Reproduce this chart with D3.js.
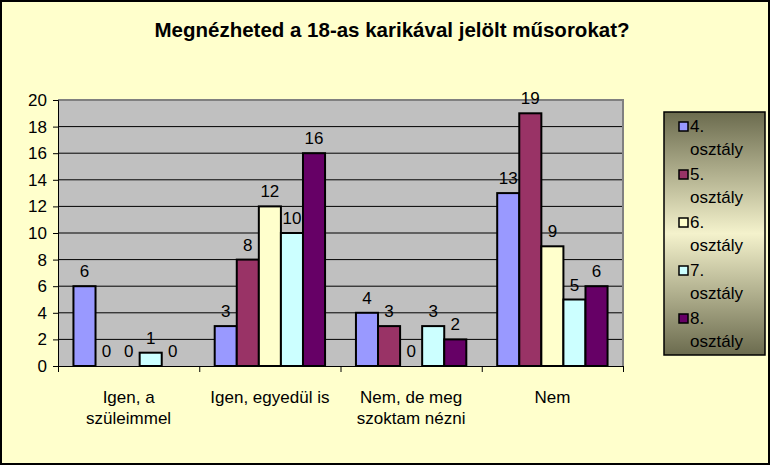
<!DOCTYPE html>
<html><head><meta charset="utf-8">
<script src="https://cdn.jsdelivr.net/npm/d3@7"></script>
<style>body{margin:0;background:#fff}svg{display:block;font-family:Arial,"Liberation Sans",sans-serif}</style>
</head><body><div id="chart"></div>
<script>
const categories = [['Igen, a', 'szüleimmel'], ['Igen, egyedül is'], ['Nem, de meg', 'szoktam nézni'], ['Nem']];
const seriesNames = ['4. osztály', '5. osztály', '6. osztály', '7. osztály', '8. osztály'];
const seriesColors = ['#9999ff', '#993366', '#ffffcc', '#ccffff', '#660066'];
const values = [
  [6, 3, 4, 13],
  [0, 8, 3, 19],
  [0, 12, 0, 9],
  [1, 10, 3, 5],
  [0, 16, 2, 6]
];
const yTicks = [0, 2, 4, 6, 8, 10, 12, 14, 16, 18, 20];

const W = 770, H = 465;
const m = { l: 58, r: 147, t: 100, b: 99 };
const w = W - m.l - m.r, h = H - m.t - m.b;
const FS = 17;

const svg = d3.select('#chart').append('svg').attr('width', W).attr('height', H);
svg.append('rect').attr('x', 1).attr('y', 1).attr('width', W - 2).attr('height', H - 2)
  .attr('fill', '#ffffcc').attr('stroke', '#000').attr('stroke-width', 2);

svg.append('text').attr('x', 392).attr('y', 37).attr('text-anchor', 'middle')
  .attr('font-size', 20.5).attr('font-weight', 'bold').text('Megnézheted a 18-as karikával  jelölt műsorokat?');

const g = svg.append('g').attr('transform', `translate(${m.l},${m.t})`);
const x = d3.scaleBand().domain(d3.range(categories.length)).range([0, w]);
const xs = d3.scaleBand().domain(d3.range(seriesNames.length)).range([0, x.bandwidth()]).paddingOuter(0.7);
const y = d3.scaleLinear().domain([0, 20]).range([h, 0]);

g.append('rect').attr('width', w).attr('height', h).attr('fill', '#c0c0c0');
g.append('g').selectAll('line').data(yTicks.slice(1)).join('line')
  .attr('x1', 0).attr('x2', w).attr('y1', d => y(d)).attr('y2', d => y(d)).attr('stroke', '#000');
g.append('path').attr('d', `M0,0H${w}V${h}`).attr('fill', 'none').attr('stroke', '#808080').attr('stroke-width', 2);

const ya = g.append('g').call(d3.axisLeft(y).tickValues(yTicks).tickSize(5).tickPadding(6));
ya.selectAll('text').attr('font-size', FS).attr('fill', '#000').attr('font-family', 'Arial, "Liberation Sans"');
ya.select('.domain').attr('stroke', '#000');
const xa = g.append('g').attr('transform', `translate(0,${h})`)
  .call(d3.axisBottom(d3.scaleLinear().domain([0, 4]).range([0, w])).ticks(4).tickSize(6).tickFormat(''));
xa.select('.domain').attr('stroke', '#000');

seriesNames.forEach((s, si) => {
  const sg = g.append('g');
  sg.selectAll('rect').data(values[si]).join('rect')
    .attr('x', (d, ci) => x(ci) + xs(si)).attr('width', xs.bandwidth())
    .attr('y', d => y(d)).attr('height', d => h - y(d))
    .attr('fill', seriesColors[si]).attr('stroke', '#000').attr('stroke-width', 2);
  sg.selectAll('text').data(values[si]).join('text')
    .attr('x', (d, ci) => x(ci) + xs(si) + xs.bandwidth() / 2).attr('y', d => y(d) - 9)
    .attr('text-anchor', 'middle').attr('font-size', FS).text(d => d);
});

const xl = g.append('g');
categories.forEach((lines, ci) => {
  lines.forEach((t, li) => {
    xl.append('text').attr('x', x(ci) + x.bandwidth() / 2).attr('y', h + 37 + li * 21)
      .attr('text-anchor', 'middle').attr('font-size', FS).text(t);
  });
});

const defs = svg.append('defs');
const grad = defs.append('linearGradient').attr('id', 'lg').attr('x1', 0).attr('x2', 0).attr('y1', 0).attr('y2', 1);
[[0, '#6b6b4e'], [0.5, '#f4f2cc'], [1, '#6b6b4e']].forEach(([o, c]) => grad.append('stop').attr('offset', o).attr('stop-color', c));
const leg = svg.append('g').attr('transform', 'translate(664,112)');
leg.append('rect').attr('width', 101).attr('height', 243).attr('fill', 'url(#lg)').attr('stroke', '#000').attr('stroke-width', 1.5);
seriesNames.forEach((s, i) => {
  const [a, b] = s.split(' ');
  const ly = 20 + i * 48;
  leg.append('rect').attr('x', 15).attr('y', ly - 10).attr('width', 9).attr('height', 9)
    .attr('fill', seriesColors[i]).attr('stroke', '#000').attr('stroke-width', 1.5);
  leg.append('text').attr('x', 26).attr('y', ly).attr('font-size', FS).text(a);
  leg.append('text').attr('x', 26).attr('y', ly + 23).attr('font-size', FS).text(b);
});
</script></body></html>
